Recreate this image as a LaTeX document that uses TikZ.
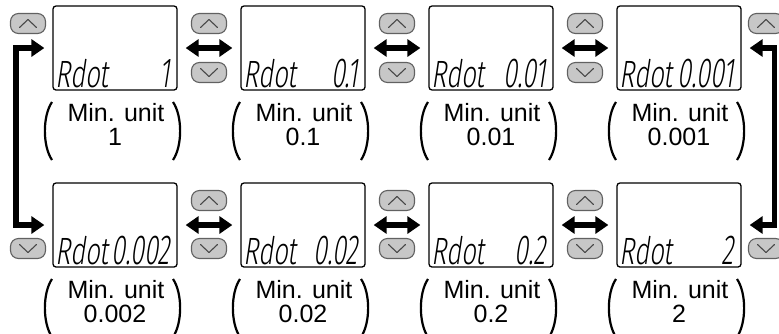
\documentclass[tikz,border=0pt]{standalone}
\usepackage{fontspec}
\setmainfont{Liberation Sans}
\newfontfamily\lcdfont{Fira Sans Light}[FakeStretch=0.68,FakeSlant=0.15]
\newfontfamily\lcdnum{Fira Sans Light}[FakeStretch=0.6,FakeSlant=0.15,Numbers=Lining]
\usetikzlibrary{arrows.meta}
\begin{document}
\begin{tikzpicture}[x=1pt,y=-1pt,
 lcd/.style={draw=black,line width=1.3pt,rounded corners=3pt,minimum width=124pt,minimum height=84pt,inner sep=0pt,fill=white},
 btn/.style={draw=black!62,fill=black!22,line width=1.1pt,rounded corners=8pt,minimum width=35pt,minimum height=20pt,inner sep=0pt},
 chev/.style={draw=black!72,line width=1.1pt,line cap=round,line join=round},
 conn/.style={line width=5.5pt,{Triangle[length=13pt,width=17pt]}-{Triangle[length=13pt,width=17pt]},shorten >=8pt,shorten <=8pt},
 lcdtxt/.style={font=\lcdfont\fontsize{38}{38}\selectfont,inner sep=0pt},
 lcdval/.style={font=\lcdnum\fontsize{42}{42}\selectfont,inner sep=0pt},
 lbl/.style={font=\fontsize{25}{25}\selectfont,inner sep=0pt},
 paren/.style={line width=2.2pt}]
\useasboundingbox (0,0) rectangle (779,333);
% displays
\foreach \i/\cx/\cy/\v in {1/115/48/1,2/303/48/0.1,3/491/48/0.01,4/679/48/0.001,
                           5/115/225/0.002,6/303/225/0.02,7/491/225/0.2,8/679/225/2}{
  \node[lcd] (L\i) at (\cx,\cy) {};
  \node[lcdtxt,anchor=base west] (R\i) at (\cx-60,\cy+39) {Rdot};
  \node[lcdval,anchor=base east] (V\i) at (\cx+55,\cy+39) {\v};
  \node[lbl,anchor=base] (M\i) at (\cx+1,\cy+73) {Min. unit};
  \node[lbl,anchor=base] (N\i) at (\cx,\cy+97) {\v};
  \draw[paren] (\cx-63,\cy+54) .. controls (\cx-72.5,\cy+68) and (\cx-72.5,\cy+98) .. (\cx-63,\cy+112);
  \draw[paren] (\cx+58,\cy+54) .. controls (\cx+67.5,\cy+68) and (\cx+67.5,\cy+98) .. (\cx+58,\cy+112);
}
% buttons between displays
\foreach \j/\bx in {1/209,2/397,3/585}{
  \node[btn] (TU\j) at (\bx,23.5) {};
  \node[btn] (TD\j) at (\bx,72.5) {};
  \node[btn] (BU\j) at (\bx,200.5) {};
  \node[btn] (BD\j) at (\bx,248.5) {};
}
\node[btn] (TU0) at (28,23.5) {};
\node[btn] (TU4) at (766,23.5) {};
\node[btn] (BD0) at (28,248.5) {};
\node[btn] (BD4) at (766,248.5) {};
% chevrons
\foreach \n in {TU0,TU1,TU2,TU3,TU4,BU1,BU2,BU3}{
  \draw[chev,shift={(\n.center)}] (-8.5,4) -- (0,-4) -- (8.5,4);
}
\foreach \n in {TD1,TD2,TD3,BD0,BD1,BD2,BD3,BD4}{
  \draw[chev,shift={(\n.center)}] (-8.5,-4) -- (0,4) -- (8.5,-4);
}
% connectors
\draw[conn] (L1) -- (L2);
\draw[conn] (L2) -- (L3);
\draw[conn] (L3) -- (L4);
\draw[conn] (L5) -- (L6);
\draw[conn] (L6) -- (L7);
\draw[conn] (L7) -- (L8);
\draw[conn] (L1.west) -- ++(-36.5,0) |- (L5.west);
\draw[conn] (L4.east) -- ++(33,0) |- (L8.east);
\end{tikzpicture}
\end{document}
